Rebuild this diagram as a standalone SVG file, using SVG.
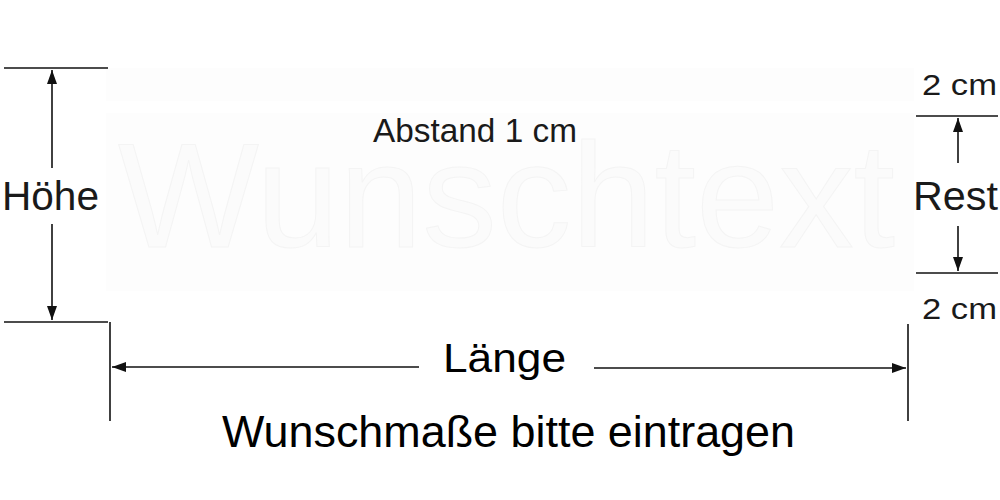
<svg xmlns="http://www.w3.org/2000/svg" width="1000" height="500" viewBox="0 0 1000 500">
<style>
.t{font-family:"Liberation Sans",Arial,sans-serif;fill:#1a1a1a}
.ln{stroke:#111;stroke-width:1.6;fill:none}
.ah{fill:#111}
.faint{fill:#fdfdfd}
</style>
<defs>
<marker id="arr" viewBox="0 0 14 10" refX="14" refY="5" markerWidth="14" markerHeight="10" markerUnits="userSpaceOnUse" orient="auto">
<path d="M0,0 L14,5 L0,10 Z" class="ah"/>
</marker>
</defs>
<rect width="1000" height="500" fill="#fff"/>
<g id="panel">
<rect class="faint" x="106" y="68" width="808" height="33"/>
<rect class="faint" x="106" y="113" width="808" height="178"/>
<text x="118" y="247" textLength="777" lengthAdjust="spacingAndGlyphs" style="font-family:'Liberation Sans',Arial,sans-serif;font-size:149px;fill:#fbfbfb;stroke:#f4f4f4;stroke-width:1">Wunschtext</text>
</g>
<g id="connectors">
<line class="ln" x1="4" y1="68" x2="108" y2="68"/>
<line class="ln" x1="4" y1="322" x2="108" y2="322"/>
<line class="ln" x1="52" y1="168" x2="52" y2="70" marker-end="url(#arr)"/>
<line class="ln" x1="52" y1="224" x2="52" y2="320" marker-end="url(#arr)"/>
<line class="ln" x1="110" y1="322" x2="110" y2="421"/>
<line class="ln" x1="908" y1="324" x2="908" y2="421"/>
<line class="ln" x1="419" y1="367" x2="112" y2="367" marker-end="url(#arr)"/>
<line class="ln" x1="594" y1="368" x2="906" y2="368" marker-end="url(#arr)"/>
<line class="ln" x1="916" y1="116" x2="998" y2="116"/>
<line class="ln" x1="916" y1="273" x2="998" y2="273"/>
<line class="ln" x1="958" y1="163" x2="958" y2="118" marker-end="url(#arr)"/>
<line class="ln" x1="958" y1="226" x2="958" y2="271" marker-end="url(#arr)"/>
</g>
<g id="label-abstand"><text class="t" x="373" y="142" font-size="33" textLength="204" lengthAdjust="spacingAndGlyphs">Abstand 1 cm</text></g>
<g id="label-hoehe"><text class="t" x="2" y="210" font-size="41" textLength="97" lengthAdjust="spacingAndGlyphs">Höhe</text></g>
<g id="label-rest"><text class="t" x="913" y="210" font-size="40" textLength="85" lengthAdjust="spacingAndGlyphs">Rest</text></g>
<g id="label-2cm-top"><text class="t" x="922" y="95" font-size="29" textLength="75" lengthAdjust="spacingAndGlyphs">2 cm</text></g>
<g id="label-2cm-bottom"><text class="t" x="922" y="319" font-size="29" textLength="75" lengthAdjust="spacingAndGlyphs">2 cm</text></g>
<g id="label-laenge"><text class="t" x="443" y="372" font-size="41" textLength="123" lengthAdjust="spacingAndGlyphs" style="fill:#000">Länge</text></g>
<g id="label-wunschmasse"><text class="t" x="222" y="447" font-size="44" textLength="573" lengthAdjust="spacingAndGlyphs" style="fill:#000">Wunschmaße bitte eintragen</text></g>
</svg>
